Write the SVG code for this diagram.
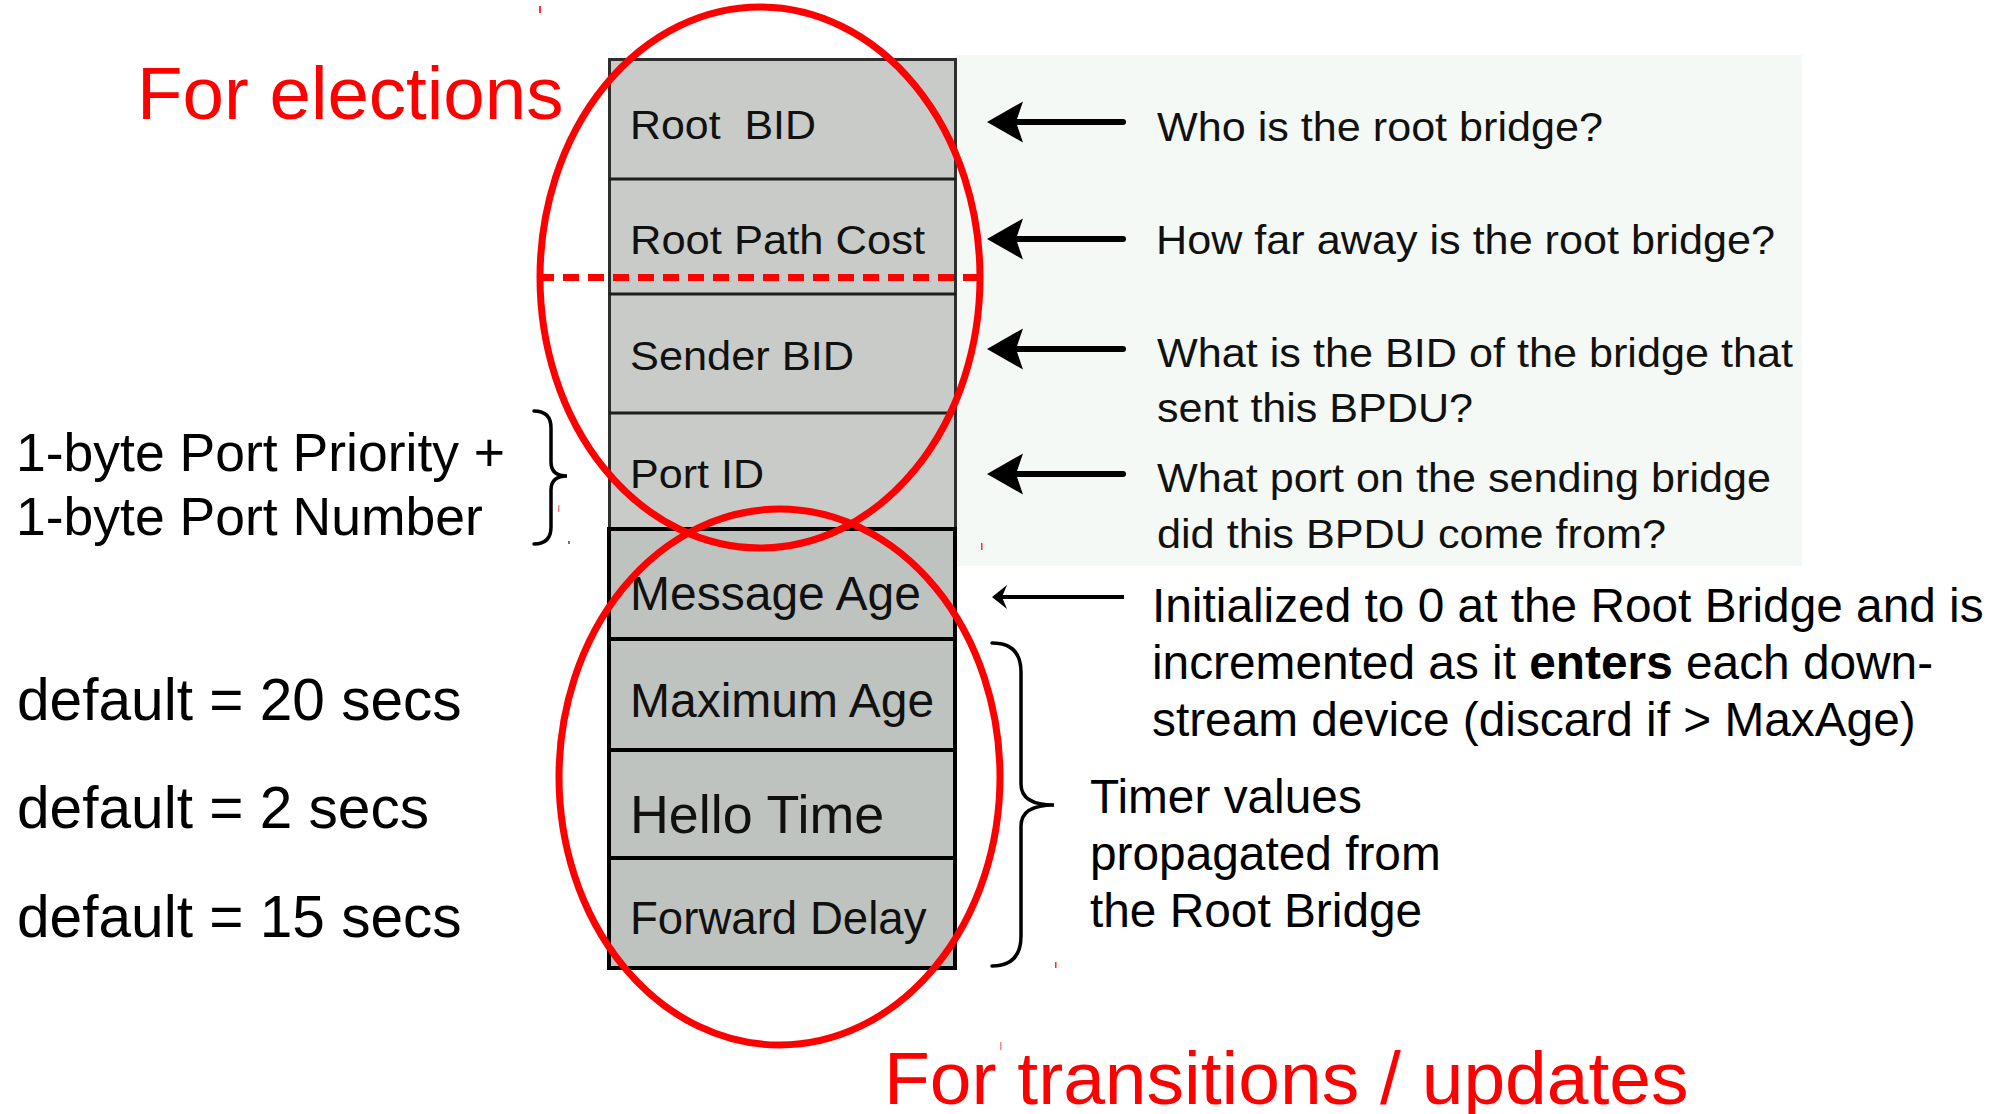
<svg xmlns="http://www.w3.org/2000/svg" xmlns:xlink="http://www.w3.org/1999/xlink" width="2005" height="1114" viewBox="0 0 2005 1114">
  <style>
    .field-top { fill: #c8cbc7; stroke: #2e2e2e; stroke-width: 3; }
    .field-bot { fill: #bfc3bf; stroke: #000; stroke-width: 4; }
    .div-top { stroke: #1e1e1e; stroke-width: 3; }
    .div-bot { stroke: #000; stroke-width: 4; }
    .lbl { font-family: "Liberation Sans", Arial, sans-serif; fill: #111; }
    .lbl-up { font-size: 40px; }
    .q { font-family: "Liberation Sans", Arial, sans-serif; font-size: 40px; fill: #111; }
    .note { font-family: "Liberation Sans", Arial, sans-serif; font-size: 47.8px; fill: #000; }
    .side { font-family: "Liberation Sans", Arial, sans-serif; fill: #000; }
    .title { font-family: "Liberation Sans", Arial, sans-serif; fill: #ff0000; }
    .ring { fill: none; stroke: #ff0000; stroke-width: 7; }
    .shaft { stroke: #000; stroke-width: 6; stroke-linecap: round; }
    .shaft-thin { stroke: #000; stroke-width: 4; }
    .brace { fill: none; stroke: #000; stroke-width: 3.5; stroke-linecap: round; }
    .tick { fill: #ff3030; }
    .dot { fill: #777; }
  </style>
  <defs>
    <!-- barbed arrowhead, tip at origin pointing left -->
    <path id="headBold" d="M0,0 L36,-20.5 L29,0 L36,20.5 Z" fill="#000"/>
    <path id="headThin" d="M0,0 L15,-12 L10,0 L15,12 Z" fill="#000"/>
  </defs>

  <rect width="2005" height="1114" fill="#ffffff"/>

  <!-- pale panel behind the question column -->
  <rect id="question-panel" x="956" y="55" width="846" height="511" fill="#f5f9f5"/>

  <!-- BPDU fields -->
  <g id="bpdu-upper">
    <rect class="field-top" x="609.5" y="59.5" width="346" height="470"/>
    <line class="div-top" x1="609" y1="179" x2="956" y2="179"/>
    <line class="div-top" x1="609" y1="294" x2="956" y2="294"/>
    <line class="div-top" x1="609" y1="413" x2="956" y2="413"/>
  </g>
  <g id="field-root-bid">
    <text class="lbl lbl-up" x="630" y="139" textLength="186" lengthAdjust="spacingAndGlyphs" xml:space="preserve">Root  BID</text>
  </g>
  <g id="field-root-path-cost">
    <text class="lbl lbl-up" x="630" y="254" textLength="295" lengthAdjust="spacingAndGlyphs">Root Path Cost</text>
  </g>
  <g id="field-sender-bid">
    <text class="lbl lbl-up" x="630" y="370" textLength="224" lengthAdjust="spacingAndGlyphs">Sender BID</text>
  </g>
  <g id="field-port-id">
    <text class="lbl lbl-up" x="630" y="488" textLength="134" lengthAdjust="spacingAndGlyphs">Port ID</text>
  </g>

  <g id="bpdu-lower">
    <rect class="field-bot" x="609" y="529" width="346" height="439"/>
    <line class="div-bot" x1="609" y1="639" x2="955" y2="639"/>
    <line class="div-bot" x1="609" y1="750" x2="955" y2="750"/>
    <line class="div-bot" x1="609" y1="858" x2="955" y2="858"/>
  </g>
  <g id="field-message-age">
    <text class="lbl" x="630" y="610" font-size="48">Message Age</text>
  </g>
  <g id="field-maximum-age">
    <text class="lbl" x="630" y="717" font-size="48">Maximum Age</text>
  </g>
  <g id="field-hello-time">
    <text class="lbl" x="630" y="833" font-size="53.8">Hello Time</text>
  </g>
  <g id="field-forward-delay">
    <text class="lbl" x="630" y="934" font-size="45.6">Forward Delay</text>
  </g>

  <!-- questions answered by each field -->
  <g id="q-root-bid">
    <text class="q" x="1157" y="141" textLength="446" lengthAdjust="spacingAndGlyphs">Who is the root bridge?</text>
  </g>
  <g id="q-root-path-cost">
    <text class="q" x="1156" y="254" textLength="619" lengthAdjust="spacingAndGlyphs">How far away is the root bridge?</text>
  </g>
  <g id="q-sender-bid">
    <text class="q" x="1157" y="367" textLength="636" lengthAdjust="spacingAndGlyphs">What is the BID of the bridge that</text>
    <text class="q" x="1157" y="422" textLength="316" lengthAdjust="spacingAndGlyphs">sent this BPDU?</text>
  </g>
  <g id="q-port-id">
    <text class="q" x="1157" y="492" textLength="614" lengthAdjust="spacingAndGlyphs">What port on the sending bridge</text>
    <text class="q" x="1157" y="548" textLength="509" lengthAdjust="spacingAndGlyphs">did this BPDU come from?</text>
  </g>

  <g id="note-message-age">
    <text class="note" x="1152" y="622">Initialized to 0 at the Root Bridge and is</text>
    <text class="note" x="1152" y="679">incremented as it <tspan font-weight="bold">enters</tspan> each down-</text>
    <text class="note" x="1152" y="736">stream device (discard if &gt; MaxAge)</text>
  </g>
  <g id="note-timers">
    <text class="note" x="1090" y="813" font-size="48">Timer values</text>
    <text class="note" x="1090" y="870" font-size="48">propagated from</text>
    <text class="note" x="1090" y="927" font-size="48">the Root Bridge</text>
  </g>

  <g id="note-port-id">
    <text class="side" x="16" y="471" font-size="53.5">1-byte Port Priority +</text>
    <text class="side" x="16" y="535" font-size="53.5">1-byte Port Number</text>
  </g>
  <g id="default-max-age">
    <text class="side" x="17" y="720" font-size="58.6">default = 20 secs</text>
  </g>
  <g id="default-hello">
    <text class="side" x="17" y="828" font-size="58.6">default = 2 secs</text>
  </g>
  <g id="default-forward-delay">
    <text class="side" x="17" y="937" font-size="58.6">default = 15 secs</text>
  </g>

  <!-- red groupings -->
  <g id="group-elections">
    <ellipse class="ring" cx="760" cy="277.5" rx="220" ry="270.5"/>
    <line x1="538" y1="277.5" x2="982" y2="277.5" stroke="#ff0000" stroke-width="7" stroke-dasharray="16 9"/>
    <text class="title" x="137" y="119" font-size="74.5">For elections</text>
  </g>
  <g id="group-transitions">
    <ellipse class="ring" cx="779.5" cy="777" rx="220.5" ry="268"/>
    <text class="title" x="884" y="1104" font-size="75">For transitions / updates</text>
  </g>

  <!-- connectors: arrows and braces -->
  <g id="connectors">
    <line class="shaft" x1="1012" y1="122" x2="1123" y2="122"/>
    <use xlink:href="#headBold" x="987" y="122"/>
    <line class="shaft" x1="1012" y1="239" x2="1123" y2="239"/>
    <use xlink:href="#headBold" x="987" y="239"/>
    <line class="shaft" x1="1012" y1="349" x2="1123" y2="349"/>
    <use xlink:href="#headBold" x="987" y="349"/>
    <line class="shaft" x1="1012" y1="474" x2="1123" y2="474"/>
    <use xlink:href="#headBold" x="987" y="474"/>

    <line class="shaft-thin" x1="1001" y1="597" x2="1124" y2="597"/>
    <use xlink:href="#headThin" x="992" y="597"/>

    <path class="brace" d="M534,411 Q551,411 551,428 L551,462 Q551,476 567,476 Q551,476 551,490 L551,527 Q551,544 534,544"/>
    <path class="brace" d="M992,643 Q1021,643 1021,672 L1021,784 Q1021,805 1054,805 Q1021,805 1021,826 L1021,936 Q1021,966 992,966"/>
  </g>

  <!-- stray marks -->
  <g id="marks">
    <rect class="tick" x="539" y="6" width="2" height="7"/>
    <rect class="tick" x="558" y="505" width="1.5" height="7" opacity="0.6"/>
    <rect class="dot" x="568" y="541" width="2" height="3"/>
    <rect class="tick" x="981" y="543" width="1.5" height="7"/>
    <rect class="tick" x="1000" y="1042" width="1.5" height="8" opacity="0.6"/>
    <rect class="tick" x="1055" y="962" width="1.5" height="6"/>
  </g>
</svg>
